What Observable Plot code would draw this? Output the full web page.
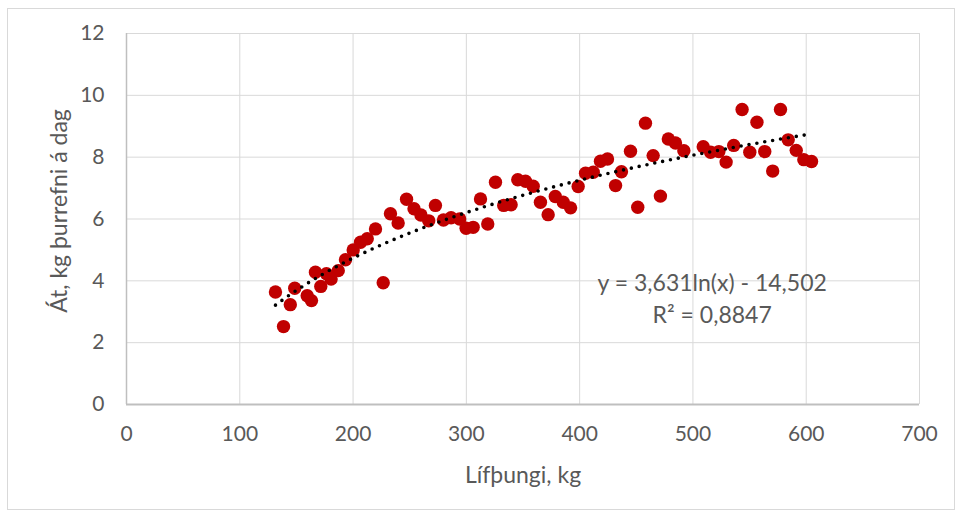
<!DOCTYPE html>
<html>
<head>
<meta charset="utf-8">
<script src="https://cdn.jsdelivr.net/npm/d3@7"></script>
<script src="https://cdn.jsdelivr.net/npm/@observablehq/plot@0.6"></script>
<style>
  html, body { margin: 0; padding: 0; background: #fff; }
  #chart { position: relative; width: 962px; height: 519px; }
</style>
</head>
<body>
<div id="chart"></div>
<script>
// Lífþungi (kg)
const weight = [131.5, 138.6, 144.6, 148.5, 159.5, 163.3, 166.8, 171.5, 176.5, 180.6,
  186.9, 193.3, 200.1, 206.6, 212.5, 219.8, 226.6, 233.0, 239.8, 247.2,
  253.8, 259.9, 266.8, 272.7, 279.8, 286.5, 294.1, 299.8, 306.0, 312.5,
  318.9, 325.7, 333.0, 339.5, 345.4, 352.2, 359.0, 365.4, 372.2, 378.5,
  385.5, 392.0, 398.7, 405.2, 412.0, 418.4, 424.6, 431.7, 436.9, 444.9,
  451.3, 458.1, 464.9, 471.3, 478.3, 484.6, 492.0, 509.1, 515.6, 522.9,
  529.3, 536.0, 543.4, 550.2, 556.5, 563.4, 570.4, 577.3, 584.1, 591.2,
  597.9, 604.7];
// Át, kg þurrefni á dag
const intake = [3.64, 2.52, 3.23, 3.76, 3.52, 3.36, 4.28, 3.82, 4.23, 4.06,
  4.33, 4.68, 5.00, 5.25, 5.36, 5.68, 3.94, 6.17, 5.87, 6.64,
  6.33, 6.13, 5.94, 6.44, 5.97, 6.04, 6.00, 5.70, 5.73, 6.65,
  5.84, 7.19, 6.44, 6.46, 7.27, 7.22, 7.06, 6.54, 6.14, 6.73,
  6.54, 6.36, 7.05, 7.48, 7.51, 7.87, 7.94, 7.08, 7.53, 8.19,
  6.38, 9.10, 8.05, 6.74, 8.59, 8.46, 8.21, 8.34, 8.16, 8.18,
  7.84, 8.38, 9.54, 8.16, 9.13, 8.18, 7.55, 9.54, 8.56, 8.22,
  7.92, 7.86];

// Trendline (logarithmic) coefficients, as shown on the chart
const trendA = 3.631;
const trendB = -14.502;
const r2 = "0,8847";

const xTicks = [0, 100, 200, 300, 400, 500, 600, 700];
const yTicks = [0, 2, 4, 6, 8, 10, 12];

const xLabel = "Lífþungi, kg";
const yLabel = "Át, kg þurrefni á dag";
const eqText = "y = 3,631ln(x) - 14,502";
const r2Text = "R² = " + r2;

const data = weight.map((w, i) => ({w, a: intake[i]}));
const trend = weight.slice().sort((a, b) => a - b).map(w => ({w, a: trendA * Math.log(w) + trendB}));

const gray = "#595959";

const plot = Plot.plot({
  width: 962,
  height: 519,
  marginLeft: 126,
  marginRight: 43,
  marginTop: 33,
  marginBottom: 115,
  style: {fontFamily: "Lato, 'Open Sans', sans-serif", fontSize: "21px", color: gray, background: "transparent", overflow: "visible"},
  x: {domain: [0, 700]},
  y: {domain: [0, 12]},
  marks: [
    Plot.gridX(xTicks, {stroke: "#d9d9d9", strokeOpacity: 1, strokeWidth: 1}),
    Plot.gridY(yTicks, {stroke: "#d9d9d9", strokeOpacity: 1, strokeWidth: 1}),
    Plot.ruleX([0], {stroke: "#bfbfbf", strokeWidth: 1.5}),
    Plot.ruleY([0], {stroke: "#bfbfbf", strokeWidth: 2}),
    Plot.axisX(xTicks, {tickSize: 0, tickPadding: 22, fontSize: 21, fill: gray, label: null}),
    Plot.axisY(yTicks, {tickSize: 0, tickPadding: 22, fontSize: 21, fill: gray, label: null}),
    Plot.text([xLabel], {text: d => d, frameAnchor: "bottom", lineAnchor: "middle", textAnchor: "middle", dy: 71, fontSize: 23, fill: gray}),
    Plot.text([yLabel], {text: d => d, frameAnchor: "left", textAnchor: "middle", lineAnchor: "middle", dx: -67, dy: -8, rotate: -90, fontSize: 23, fill: gray}),
    Plot.dot(data, {x: "w", y: "a", r: 6.7, fill: "#c00000", stroke: "none"}),
    Plot.line(trend, {x: "w", y: "a", stroke: "#000", strokeWidth: 3.6, strokeDasharray: "0 8", strokeLinecap: "round"}),
    Plot.text([eqText], {text: d => d, x: 517, y: 3.91, fontSize: 23, fill: gray}),
    Plot.text([r2Text], {text: d => d, x: 517, y: 2.88, fontSize: 23, fill: gray})
  ]
});

const container = document.getElementById("chart");
container.appendChild(plot);
d3.select(plot).insert("rect", ":first-child")
  .attr("x", 7.5).attr("y", 8.5).attr("width", 947).attr("height", 501)
  .attr("fill", "#fff").attr("stroke", "#d9d9d9").attr("stroke-width", 1);
</script>
</body>
</html>
